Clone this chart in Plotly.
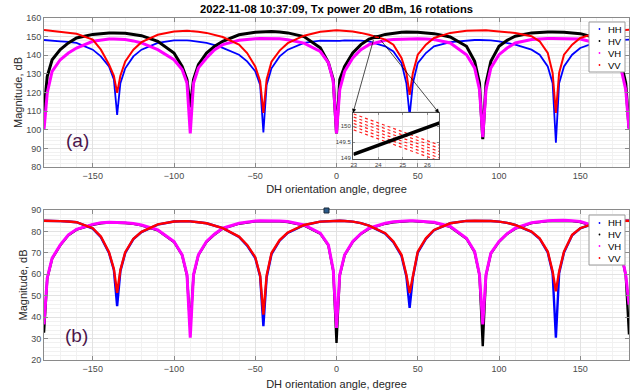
import plotly.graph_objects as go

# ---------------- data ----------------
angle = [
    -180, -178, -175, -170, -165, -160, -150, -145, -140, -137, -135, -133, -130, -125, -120, -110, -100, -95, -92,
    -90, -88, -85, -80, -75, -70, -60, -55, -50, -47, -45, -43, -40, -35, -30, -20, -10, -5, -2,
    0, 2, 5, 10, 15, 20, 30, 35, 40, 43, 45, 47, 50, 55, 60, 70, 80, 85, 88,
    90, 92, 95, 100, 105, 110, 120, 125, 130, 133, 135, 137, 140, 145, 150, 160, 170, 175, 178,
    180]

top_HH = [
    148.2, 148.0, 147.8, 147.5, 147.2, 146.6, 143.0, 139.4, 134.0, 127.0, 108.0, 125.0, 133.0, 139.4, 143.0, 146.6, 148.0, 148.2, 148.0,
    147.8, 147.6, 147.3, 146.6, 145.5, 144.0, 140.3, 136.7, 131.4, 124.0, 98.6, 124.0, 133.0, 139.4, 143.0, 146.6, 147.8, 147.8, 147.6,
    147.5, 147.7, 148.0, 148.0, 147.8, 147.5, 144.8, 142.0, 135.8, 125.0, 107.5, 125.0, 135.8, 141.2, 144.8, 147.1, 148.0, 148.2, 148.2,
    148.2, 148.1, 148.0, 147.5, 146.8, 145.7, 143.0, 140.3, 134.0, 125.0, 93.0, 125.0, 134.0, 140.3, 143.9, 147.0, 148.0, 148.3, 148.4,
    148.4]
top_HV = [
    110.0, 128.7, 137.6, 143.0, 146.6, 149.3, 151.2, 151.7, 152.0, 152.0, 152.0, 152.0, 151.8, 151.2, 150.5, 147.5, 141.2, 134.0, 126.9,
    112.0, 127.0, 135.0, 141.2, 144.8, 147.5, 151.0, 151.8, 152.3, 152.5, 152.6, 152.7, 152.7, 152.5, 152.0, 150.0, 144.0, 136.0, 127.0,
    98.0, 127.0, 134.0, 141.2, 145.7, 148.7, 151.2, 151.9, 152.3, 152.5, 152.5, 152.5, 152.3, 152.0, 151.6, 149.8, 144.8, 136.7, 125.0,
    95.0, 125.0, 136.7, 144.8, 148.0, 150.2, 152.0, 152.4, 152.5, 152.5, 152.5, 152.4, 152.3, 152.0, 151.6, 149.3, 143.9, 136.7, 125.0,
    101.0]
top_VH = [
    100.0, 119.8, 131.4, 137.6, 141.2, 143.9, 147.5, 148.3, 148.7, 148.7, 148.7, 148.6, 148.4, 147.7, 146.6, 143.0, 137.6, 132.3, 125.1,
    98.0, 125.0, 133.2, 138.5, 143.0, 145.7, 148.0, 148.6, 148.9, 149.0, 149.0, 149.0, 149.0, 148.8, 148.3, 146.5, 142.0, 136.0, 126.0,
    98.0, 121.5, 131.4, 138.5, 143.0, 145.7, 148.0, 148.5, 148.7, 148.9, 148.9, 148.9, 148.9, 148.7, 148.4, 146.6, 140.3, 133.2, 121.5,
    96.0, 121.5, 133.2, 140.3, 143.9, 146.6, 148.4, 148.8, 149.0, 149.0, 149.0, 149.0, 149.0, 148.9, 148.7, 146.6, 140.3, 133.2, 121.5,
    100.0]
top_VV = [
    153.5, 153.3, 153.1, 152.8, 152.3, 151.5, 148.4, 143.0, 135.0, 129.0, 119.8, 129.0, 136.7, 143.0, 147.0, 151.0, 152.8, 153.2, 153.2,
    153.0, 152.9, 152.6, 152.0, 151.0, 149.8, 145.7, 141.2, 134.0, 126.0, 109.0, 127.0, 136.5, 142.5, 146.5, 150.5, 152.6, 153.2, 153.3,
    153.4, 153.3, 153.2, 152.8, 152.0, 151.0, 148.4, 145.7, 138.5, 130.5, 118.8, 130.5, 140.3, 145.7, 149.3, 152.0, 153.2, 153.4, 153.4,
    153.4, 153.4, 153.2, 152.8, 152.5, 152.0, 150.2, 147.5, 141.2, 130.5, 109.0, 130.5, 140.3, 145.7, 149.3, 152.0, 153.2, 153.5, 153.6,
    153.7]

bot_HH = [
    85.0, 85.0, 84.9, 84.8, 84.6, 84.3, 81.3, 77.3, 70.0, 62.0, 45.1, 61.5, 70.0, 76.4, 79.7, 83.2, 84.6, 84.9, 84.8,
    84.7, 84.6, 84.3, 83.8, 82.8, 81.5, 77.4, 73.4, 67.6, 59.0, 35.8, 58.5, 69.4, 75.7, 79.3, 82.9, 84.6, 84.9, 85.0,
    85.0, 85.0, 84.9, 84.6, 83.9, 82.7, 79.0, 75.0, 68.6, 59.0, 44.3, 58.5, 70.1, 76.5, 80.6, 83.8, 84.9, 85.0, 85.0,
    85.0, 85.0, 84.9, 84.6, 84.0, 83.0, 79.8, 76.6, 70.2, 60.5, 30.4, 60.5, 70.2, 78.2, 81.4, 84.1, 84.9, 85.0, 85.0,
    85.0]
bot_HV = [
    32.7, 58.0, 67.3, 73.5, 78.2, 80.8, 83.1, 83.8, 84.1, 84.1, 84.1, 84.1, 83.9, 83.5, 82.8, 80.5, 75.1, 68.9, 59.5,
    35.0, 59.5, 68.9, 75.1, 78.6, 81.3, 83.6, 84.3, 84.7, 84.8, 84.8, 84.8, 84.8, 84.7, 84.4, 82.8, 79.0, 73.5, 61.5,
    28.0, 59.5, 68.9, 75.1, 78.8, 81.3, 83.6, 84.3, 84.7, 84.8, 84.8, 84.8, 84.7, 84.5, 84.1, 82.1, 76.6, 70.4, 59.5,
    26.5, 59.5, 69.7, 75.1, 78.8, 81.3, 83.9, 84.5, 84.8, 84.9, 85.0, 85.0, 85.0, 84.8, 84.4, 82.1, 76.6, 70.4, 59.5,
    31.9]
bot_VH = [
    36.6, 58.3, 67.5, 73.7, 78.4, 81.0, 83.3, 84.0, 84.3, 84.3, 84.3, 84.3, 84.1, 83.7, 83.0, 80.7, 75.3, 69.1, 59.8,
    30.4, 59.8, 69.1, 75.3, 78.8, 81.5, 83.8, 84.5, 84.9, 85.0, 85.0, 85.0, 85.0, 84.9, 84.6, 83.0, 79.2, 73.7, 62.0,
    35.0, 59.8, 69.1, 75.3, 79.0, 81.5, 83.8, 84.5, 84.9, 85.0, 85.0, 85.0, 84.9, 84.7, 84.3, 82.3, 76.8, 70.6, 59.8,
    36.6, 59.8, 69.9, 75.3, 79.0, 81.5, 84.1, 84.7, 85.0, 85.1, 85.2, 85.2, 85.2, 85.0, 84.6, 82.3, 76.8, 70.6, 59.8,
    45.9]
bot_VV = [
    85.0, 85.0, 84.9, 84.8, 84.6, 84.3, 81.5, 77.6, 70.3, 62.5, 51.3, 62.0, 70.3, 76.6, 79.8, 83.3, 84.6, 84.9, 84.8,
    84.7, 84.6, 84.3, 83.8, 82.8, 81.5, 77.6, 73.7, 68.0, 59.5, 41.2, 59.5, 69.9, 76.0, 79.5, 83.0, 84.6, 84.9, 85.0,
    85.0, 85.0, 84.9, 84.6, 83.9, 82.7, 79.2, 75.3, 69.1, 59.8, 51.3, 59.8, 70.6, 76.8, 80.7, 83.8, 84.9, 85.0, 85.0,
    85.0, 85.0, 84.9, 84.6, 84.0, 83.0, 79.9, 76.8, 70.6, 61.3, 52.0, 61.3, 70.6, 78.4, 81.5, 84.1, 84.9, 85.0, 85.0,
    85.0]

# zoom inset (top panel, 16 rotations -> several parallel tracks)
inset_angle = [23.0, 24.0, 25.0, 26.0, 26.5]
inset_VV = [
    [150.38, 150.10, 149.82, 149.54, 149.40],
    [150.28, 150.00, 149.72, 149.44, 149.30],
    [150.18, 149.90, 149.62, 149.34, 149.20],
    [150.08, 149.80, 149.52, 149.24, 149.10],
    [149.98, 149.70, 149.42, 149.14, 149.00],
    [149.88, 149.60, 149.32, 149.04, 148.90],
]
inset_HV = [
    [149.10, 149.38, 149.66, 149.94, 150.08],
    [149.14, 149.42, 149.70, 149.98, 150.12],
]
inset_xrange = [22.97, 26.47]
inset_yrange = [148.97, 150.41]

series_names = ["HH", "HV", "VH", "VV"]
series_colors = {"HH": "#0000ff", "HV": "#000000", "VH": "#ff00ff", "VV": "#ff0000"}
top_data = {"HH": top_HH, "HV": top_HV, "VH": top_VH, "VV": top_VV}
bot_data = {"HH": bot_HH, "HV": bot_HV, "VH": bot_VH, "VV": bot_VV}
top_width = {"HH": 1.8, "HV": 3.0, "VH": 3.0, "VV": 2.0}
bot_width = {"HH": 2.4, "HV": 2.4, "VH": 3.0, "VV": 2.4}

title_text = "2022-11-08 10:37:09, Tx power 20 dBm, 16 rotations"
xlabel = "DH orientation angle, degree"
ylabel = "Magnitude, dB"

# ---------------- layout geometry ----------------
W, H = 641, 392
ML, MR, MT, MB = 44, 12, 18, 32
PW = W - ML - MR
PH = H - MT - MB


def px_x(px):
    return (px - ML) / PW


def px_y(py):
    return (H - MB - py) / PH


top_dom = [px_y(167), 1.0]
bot_dom = [0.0, px_y(210)]
inset_xdom = [px_x(353), px_x(439)]
inset_ydom = [px_y(159), px_y(113)]

FONT = "Liberation Sans, Arial, sans-serif"
fig = go.Figure()

for name in series_names:
    fig.add_trace(go.Scatter(
        x=angle, y=top_data[name], mode="lines", name=name, showlegend=False,
        line=dict(color=series_colors[name], width=top_width[name]),
        xaxis="x", yaxis="y"))
for name in series_names:
    fig.add_trace(go.Scatter(
        x=angle, y=bot_data[name], mode="lines", name=name, showlegend=False,
        line=dict(color=series_colors[name], width=bot_width[name]),
        xaxis="x2", yaxis="y2"))

# inset traces
for tr in inset_VV:
    fig.add_trace(go.Scatter(x=inset_angle, y=tr, mode="lines", showlegend=False,
                             line=dict(color="#ff2020", width=1.2, dash="dot"),
                             xaxis="x3", yaxis="y3"))
for tr in inset_HV:
    fig.add_trace(go.Scatter(x=inset_angle, y=tr, mode="lines", showlegend=False,
                             line=dict(color="#000000", width=2.2),
                             xaxis="x3", yaxis="y3"))

grid_major = "#e2e2e2"
grid_minor = "#f1f1f1"
axis_col = "#8a8a8a"
tick_font = dict(family=FONT, size=9, color="#4a4a4a")


def xaxis_cfg(anchor, standoff):
    return dict(domain=[0, 1], anchor=anchor, range=[-180, 180], tick0=0, dtick=50,
                ticks="inside", ticklen=4, tickcolor=axis_col, showline=True, linecolor=axis_col,
                linewidth=1, mirror="ticks", showgrid=True, gridcolor=grid_major, zeroline=False,
                minor=dict(dtick=10, tick0=0, showgrid=True, gridcolor=grid_minor),
                tickfont=tick_font,
                title=dict(text=xlabel, font=dict(family=FONT, size=11, color="#262626"), standoff=standoff))


def yaxis_cfg(anchor, dom, rng):
    return dict(domain=dom, anchor=anchor, range=rng, dtick=10,
                ticks="inside", ticklen=4, tickcolor=axis_col, showline=True, linecolor=axis_col,
                linewidth=1, mirror="ticks", showgrid=True, gridcolor=grid_major, zeroline=False,
                minor=dict(dtick=2, showgrid=True, gridcolor=grid_minor),
                tickfont=tick_font,
                title=dict(text=ylabel, font=dict(family=FONT, size=11, color="#262626"), standoff=1))


fig.update_layout(
    width=W, height=H,
    margin=dict(l=ML, r=MR, t=MT, b=MB, autoexpand=False),
    paper_bgcolor="white", plot_bgcolor="white",
    font=dict(family=FONT),
    showlegend=False,
    title=dict(text="<b>" + title_text + "</b>", x=0.5, xref="paper", xanchor="center",
               y=1 - 9.5 / H, yref="container", yanchor="middle",
               font=dict(family=FONT, size=11.2, color="#000000")),
    xaxis=xaxis_cfg("y", 5),
    yaxis=yaxis_cfg("x", top_dom, [80, 160]),
    xaxis2=xaxis_cfg("y2", 7),
    yaxis2=yaxis_cfg("x2", bot_dom, [20, 90]),
    xaxis3=dict(domain=inset_xdom, anchor="y3", range=inset_xrange, tickvals=[23, 24, 25, 26],
                ticks="inside", ticklen=2, tickcolor=axis_col, showline=True, linecolor="#555555",
                mirror="ticks", showgrid=True, gridcolor=grid_major, zeroline=False,
                tickfont=dict(family=FONT, size=6, color="#3a3a3a")),
    yaxis3=dict(domain=inset_ydom, anchor="x3", range=inset_yrange, tickvals=[149, 149.5, 150],
                ticks="inside", ticklen=2, tickcolor=axis_col, showline=True, linecolor="#555555",
                mirror="ticks", showgrid=True, gridcolor=grid_major, zeroline=False,
                tickfont=dict(family=FONT, size=6, color="#3a3a3a")),
)

shapes = []
annotations = []

# zoom rectangle in main axes
shapes.append(dict(type="rect", xref="x", yref="y", x0=inset_xrange[0], x1=inset_xrange[1],
                   y0=inset_yrange[0], y1=inset_yrange[1], line=dict(color="#000000", width=1)))


# arrows from zoom rectangle to inset corners (inset corners expressed in main-axis data units)
def dom_to_x(d):
    return -180 + 360 * d


def dom_to_y(d):
    return 80 + (d - top_dom[0]) / (top_dom[1] - top_dom[0]) * 80


for tail_x, head_d in [(inset_xrange[0], inset_xdom[0]), (inset_xrange[1], inset_xdom[1])]:
    annotations.append(dict(xref="x", yref="y", axref="x", ayref="y",
                            x=dom_to_x(head_d), y=dom_to_y(inset_ydom[1]),
                            ax=tail_x, ay=inset_yrange[0], text="", showarrow=True,
                            arrowhead=2, arrowsize=1.2, arrowwidth=0.7, arrowcolor="#000000",
                            standoff=0, startstandoff=0))

# panel labels
annotations.append(dict(xref="paper", yref="paper", x=px_x(77), y=px_y(140), text="(a)",
                        xanchor="center", yanchor="middle",
                        showarrow=False, font=dict(family=FONT, size=19, color="#4b154b")))
annotations.append(dict(xref="paper", yref="paper", x=px_x(76), y=px_y(335), text="(b)",
                        xanchor="center", yanchor="middle",
                        showarrow=False, font=dict(family=FONT, size=19, color="#4b154b")))

# legends (drawn as boxes with dot markers and labels)
for box_top, box_bot, rows in [(22, 72, [29, 41, 53, 65]), (215, 265, [223, 234.5, 246, 258])]:
    shapes.append(dict(type="rect", xref="paper", yref="paper", layer="above",
                       x0=px_x(589), x1=px_x(625), y0=px_y(box_bot), y1=px_y(box_top),
                       fillcolor="white", line=dict(color="#9a9a9a", width=1)))
    for name, ry in zip(series_names, rows):
        shapes.append(dict(type="circle", xref="paper", yref="paper", layer="above",
                           x0=px_x(598.6), x1=px_x(600.4), y0=px_y(ry + 0.9), y1=px_y(ry - 0.9),
                           fillcolor=series_colors[name], line=dict(width=0)))
        annotations.append(dict(xref="paper", yref="paper", x=px_x(606), y=px_y(ry), text=name,
                                xanchor="left", yanchor="middle", showarrow=False,
                                font=dict(family=FONT, size=9.5, color="#000000")))

# small square marker at the top of the lower panel
shapes.append(dict(type="rect", xref="paper", yref="paper", layer="above",
                   x0=px_x(324), x1=px_x(329), y0=px_y(213), y1=px_y(208),
                   fillcolor="#2a5a8a", line=dict(color="#1a2a3a", width=1)))

fig.update_layout(shapes=shapes, annotations=annotations)
fig.write_html("out.html", config={"displayModeBar": False},
               post_script="document.body.style.margin='0px';document.body.style.padding='0px';")
